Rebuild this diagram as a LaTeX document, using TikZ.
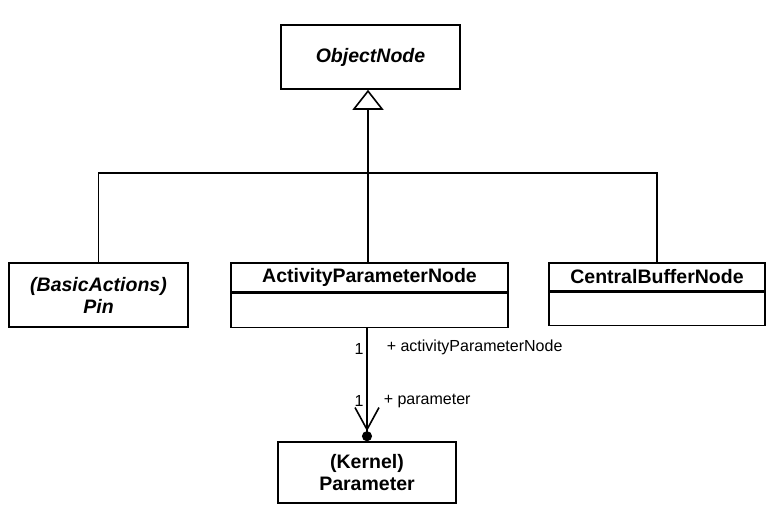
\documentclass[tikz,border=0pt]{standalone}
\usepackage{fontspec}
\setmainfont{Liberation Sans}
\usetikzlibrary{arrows.meta}
\begin{document}
\begin{tikzpicture}[x=1pt,y=-1pt,line width=1.6pt]
    \tikzset{>=latex}
    \tikzset{classbox/.style={draw, rectangle, inner sep=0pt, font=\fontsize{19.5}{23}\selectfont\bfseries, align=center}}
    \tikzset{rolelabel/.style={font=\fontsize{16}{19}\selectfont, inner sep=0pt}}
    \useasboundingbox (0,0) rectangle (768,508);
    % classes
    \node[classbox, minimum width=179pt, minimum height=64pt] (objnode) at (370.5,57) {\itshape ObjectNode};
    \node[classbox, minimum width=179pt, minimum height=64pt] (pin) at (98.5,295) {\itshape (BasicActions)\\[-1pt]\itshape Pin};
    \node[classbox, minimum width=277pt, minimum height=29pt] (apn) at (369.5,277.5) {ActivityParameterNode};
    \node[classbox, minimum width=277pt, minimum height=34pt, anchor=north] (apnbody) at (apn.south) {};
    \node[classbox, minimum width=216pt, minimum height=28pt] (cbn) at (657,277) {CentralBufferNode};
    \node[classbox, minimum width=216pt, minimum height=33pt, anchor=north] (cbnbody) at (cbn.south) {};
    \node[classbox, minimum width=178pt, minimum height=61pt] (param) at (367,472.5) {(Kernel)\\[-1pt]Parameter};
    % generalization
    \coordinate (J) at (368,173);
    \draw[-{Triangle[open,width=31pt,length=20pt,line width=1.6pt]}] (apn.north -| J) -- (J) -- (J |- objnode.south);
    \draw (pin.north) |- (J) -| (cbn.north);
    % association
    \draw[-{Straight Barb[length=22pt,width=24pt,line width=1.6pt]Circle[length=10pt]}] (apnbody.south -| param.north) -- (param.north);
    \node[rolelabel] (m1) at (359,349) {1};
    \node[rolelabel, anchor=west] (r1) at (386,347) {+ activityParameterNode};
    \node[rolelabel] (m2) at (359,401) {1};
    \node[rolelabel, anchor=west] (r2) at (383,401) {+ parameter};
\end{tikzpicture}
\end{document}
